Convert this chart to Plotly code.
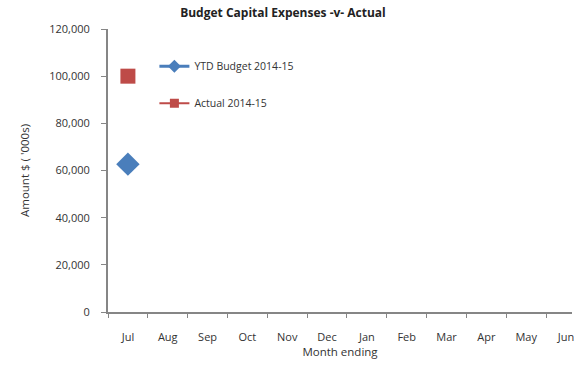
import plotly.graph_objects as go

months = ["Jul", "Aug", "Sep", "Oct", "Nov", "Dec", "Jan", "Feb", "Mar", "Apr", "May", "Jun"]
ytd_budget = [62700, None, None, None, None, None, None, None, None, None, None, None]
actual = [100000, None, None, None, None, None, None, None, None, None, None, None]

BLUE = "#4A7EBB"
RED = "#BE4B48"
AXIS = "#868686"
TEXT = "#333333"
FONT = "Open Sans"

fig = go.Figure()

# data points
fig.add_trace(go.Scatter(x=months, y=ytd_budget, mode="lines+markers",
                         line=dict(color=BLUE, width=3),
                         marker=dict(symbol="diamond", size=18, color=BLUE),
                         showlegend=False))
fig.add_trace(go.Scatter(x=months, y=actual, mode="lines+markers",
                         line=dict(color=RED, width=3),
                         marker=dict(symbol="square", size=15, color=RED),
                         showlegend=False))

# legend entries with small markers
fig.add_trace(go.Scatter(x=[None], y=[None], mode="lines+markers", name="YTD Budget 2014-15",
                         line=dict(color=BLUE, width=3),
                         marker=dict(symbol="diamond", size=10, color=BLUE),
                         legendgroup="a"))
fig.add_trace(go.Scatter(x=[None], y=[None], mode="lines+markers", name="Actual 2014-15",
                         line=dict(color=RED, width=2),
                         marker=dict(symbol="square", size=9, color=RED),
                         legendgroup="b"))

fig.update_layout(
    width=574, height=387,
    margin=dict(l=108, r=0, t=29, b=75),
    paper_bgcolor="white", plot_bgcolor="white",
    font=dict(family=FONT, size=11, color=TEXT),
    title=dict(text="<b>Budget Capital Expenses -v- Actual</b>", x=0.493, xanchor="center",
               y=0.966, yanchor="middle", font=dict(size=12, color="#222222")),
    legend=dict(x=0.1, y=0.92, xanchor="left", yanchor="top", bgcolor="rgba(0,0,0,0)",
                tracegroupgap=18, font=dict(size=10.5, color=TEXT)),
    xaxis=dict(type="category", categoryorder="array", categoryarray=months,
               range=[-0.5, 11.15], tickson="boundaries",
               showline=True, linecolor=AXIS, linewidth=2,
               ticks="outside", ticklen=4, tickcolor=AXIS, tickwidth=1,
               showgrid=False, zeroline=False, ticklabelstandoff=14,
               title=dict(text="Month ending", standoff=3, font=dict(size=11.5))),
    yaxis=dict(range=[0, 120000], dtick=20000, tickformat=",",
               showline=True, linecolor=AXIS, linewidth=2,
               ticks="outside", ticklen=5, tickcolor=AXIS, tickwidth=1,
               showgrid=False, zeroline=False, ticklabelstandoff=9,
               title=dict(text="Amount $ ( '000s)", standoff=17, font=dict(size=11.5))),
)

fig.write_html("out.html")
